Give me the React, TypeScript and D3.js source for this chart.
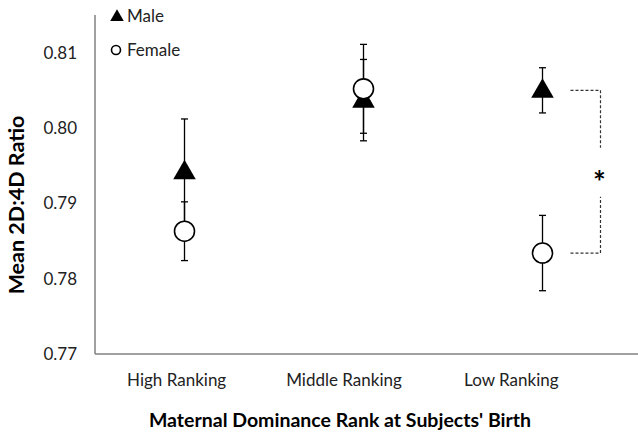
import React from "react";
import * as d3 from "d3";

const categories = ["High Ranking", "Middle Ranking", "Low Ranking"];
const maleMeans = [0.7942, 0.8037, 0.805];
const maleErr = [0.007, 0.0054, 0.003];
const femaleMeans = [0.7863, 0.8052, 0.7834];
const femaleErr = [0.0039, 0.0059, 0.005];
const yTicks = [0.77, 0.78, 0.79, 0.8, 0.81];

const W = 638;
const H = 439;
const FONT = "Lato, 'Open Sans', sans-serif";

export default function App() {
  const left = 95;
  const right = 632;
  const top = 15;
  const bottom = 354;

  const y = d3.scaleLinear().domain([0.77, 0.815]).range([bottom, top]);
  const x = d3.scalePoint<string>().domain(categories).range([left, right]).padding(0.5);
  // category labels sit slightly left of the markers in the original
  const xLab = d3.scalePoint<string>().domain(categories).range([93, 595]).padding(0.5);

  const tri = d3.symbol().type(d3.symbolTriangle).size(220)();
  const triSmall = d3.symbol().type(d3.symbolTriangle).size(80)();

  const errBar = (cx: number, m: number, e: number, key: string) => (
    <g key={key} stroke="#000" strokeWidth={1.3}>
      <line x1={cx} x2={cx} y1={y(m + e)} y2={y(m - e)} />
      <line x1={cx - 3.5} x2={cx + 3.5} y1={y(m + e)} y2={y(m + e)} />
      <line x1={cx - 3.5} x2={cx + 3.5} y1={y(m - e)} y2={y(m - e)} />
    </g>
  );

  // significance bracket on the low ranking group
  const lowCat = categories[2];
  const bx0 = x(lowCat)! + 28;
  const bx1 = x(lowCat)! + 58;
  const yM = y(maleMeans[2]);
  const yF = y(femaleMeans[2]);
  const mid = (yM + yF) / 2;

  return (
    <svg
      width={W}
      height={H}
      style={{ position: "absolute", left: 0, top: 0, background: "#fff" }}
      fontFamily={FONT}
    >
      {/* axes */}
      <line x1={left} x2={left} y1={top} y2={bottom} stroke="#808080" strokeWidth={1.5} />
      <line x1={left} x2={W} y1={bottom} y2={bottom} stroke="#808080" strokeWidth={1.5} />

      {yTicks.map((t) => (
        <text key={t} x={77} y={y(t)} dy="0.35em" textAnchor="end" fontSize={17} fill="#222">
          {d3.format(".2f")(t)}
        </text>
      ))}

      {categories.map((c) => (
        <text key={c} x={xLab(c)} y={386} textAnchor="middle" fontSize={17} fill="#222">
          {c}
        </text>
      ))}

      <text x={340} y={427} textAnchor="middle" fontSize={19.5} fontWeight="bold" fill="#000">
        Maternal Dominance Rank at Subjects' Birth
      </text>
      <text
        transform={`translate(24,205) rotate(-90)`}
        textAnchor="middle"
        fontSize={21.5}
        fontWeight="bold"
        fill="#000"
      >
        Mean 2D:4D Ratio
      </text>

      {/* error bars */}
      {categories.map((c, i) => errBar(x(c)!, maleMeans[i], maleErr[i], "me" + i))}
      {categories.map((c, i) => errBar(x(c)!, femaleMeans[i], femaleErr[i], "fe" + i))}

      {/* male markers */}
      {categories.map((c, i) => (
        <path key={"m" + i} d={tri!} transform={`translate(${x(c)},${y(maleMeans[i]) + 1})`} fill="#000" />
      ))}
      {/* female markers */}
      {categories.map((c, i) => (
        <circle
          key={"f" + i}
          cx={x(c)}
          cy={y(femaleMeans[i])}
          r={10}
          fill="#fff"
          stroke="#000"
          strokeWidth={1.6}
        />
      ))}

      {/* bracket */}
      <g stroke="#333" strokeWidth={1.2} strokeDasharray="3,2" fill="none">
        <path d={`M${bx0},${yM}H${bx1}V${mid - 24}`} />
        <path d={`M${bx0},${yF}H${bx1}V${mid + 25}`} />
      </g>
      <text x={bx1 - 1} y={mid + 21} textAnchor="middle" fontSize={30} fontWeight="bold">
        *
      </text>

      {/* legend */}
      <path d={triSmall!} transform="translate(117,17)" fill="#000" />
      <text x={127} y={22} fontSize={17} fill="#222">Male</text>
      <circle cx={116} cy={50} r={4.5} fill="#fff" stroke="#000" strokeWidth={1.6} />
      <text x={127} y={56} fontSize={17} fill="#222">Female</text>
    </svg>
  );
}
